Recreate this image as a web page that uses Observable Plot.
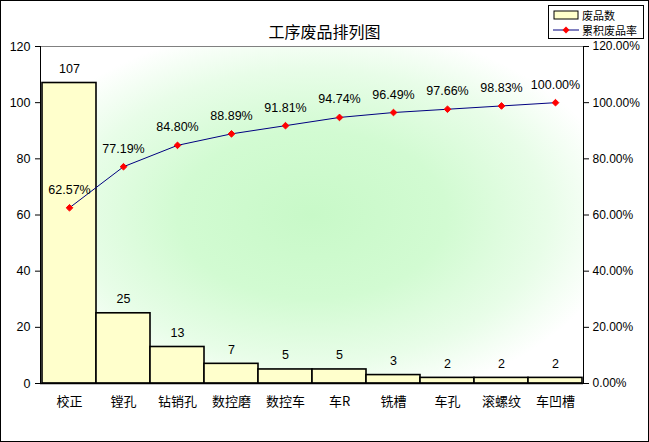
<!DOCTYPE html>
<html><head><meta charset="utf-8">
<script src="https://cdn.jsdelivr.net/npm/d3@7"></script>
<script src="https://cdn.jsdelivr.net/npm/@observablehq/plot@0.6"></script>
<style>
body{margin:0;background:#fff;}
#wrap{position:relative;width:649px;height:442px;overflow:hidden;font-family:"Liberation Sans","Noto Sans CJK SC",sans-serif;}
#border{position:absolute;left:0;top:0;width:649px;height:442px;box-sizing:border-box;border:1px solid #000;pointer-events:none;}
#title{position:absolute;left:0;width:649px;top:20px;text-align:center;font-size:16px;font-family:"Noto Sans CJK SC",sans-serif;line-height:22px;}
#legend{position:absolute;left:548px;top:5px;width:96px;height:34px;box-sizing:border-box;border:1px solid #000;background:#fff;font-size:11px;font-family:"Noto Sans CJK SC",sans-serif;}
.row{position:absolute;left:4px;height:14px;line-height:14px;}
svg{position:absolute;left:0;top:0;}
</style></head>
<body><div id="wrap"></div>
<script>
const categories = ["校正","镗孔","钻销孔","数控磨","数控车","车R","铣槽","车孔","滚螺纹","车凹槽"];
const counts = [107,25,13,7,5,5,3,2,2,2];
const cumulative = [62.57,77.19,84.80,88.89,91.81,94.74,96.49,97.66,98.83,100.00];
const leftTicks = [0,20,40,60,80,100,120];
const rightTicks = [0,20,40,60,80,100,120];
const titleText = "工序废品排列图";
const legendLabels = ["废品数","累积废品率"];

const data = categories.map((c,i)=>({cat:c,count:counts[i],cum:cumulative[i]}));

const plot = Plot.plot({
  width:649, height:442,
  marginLeft:40, marginRight:66, marginTop:46, marginBottom:59,
  style:{fontFamily:'"Liberation Sans","Noto Sans CJK SC",sans-serif',fontSize:"12px",background:"transparent",color:"#000"},
  x:{type:"band",domain:categories,padding:0,label:null},
  y:{domain:[0,120],label:null},
  marks:[
    Plot.frame({fill:"url(#bgGrad)",stroke:"none"}),
    Plot.ruleY([120],{stroke:"#808080",strokeWidth:1.2}),
    Plot.barY(data,{x:"cat",y:"count",fill:"#ffffcc",stroke:"#000",strokeWidth:1.6}),
    Plot.ruleY([0],{stroke:"#000",strokeWidth:1.6}),
    Plot.frame({anchor:"left",stroke:"#000"}),
    Plot.frame({anchor:"right",stroke:"#000"}),
    Plot.axisY({anchor:"left",ticks:leftTicks,tickSize:5,tickPadding:5,label:null,fontSize:12.5}),
    Plot.axisY({anchor:"right",ticks:rightTicks,tickSize:5,tickPadding:4,label:null,tickFormat:d=>d.toFixed(2)+"%",fontSize:12}),
    Plot.axisX({tickSize:0,tickPadding:13,label:null,fontSize:13,fontFamily:"Noto Sans CJK SC"}),
    Plot.text(data,{x:"cat",y:"count",text:d=>String(d.count),dy:-14,fontSize:12.5}),
    Plot.lineY(data,{x:"cat",y:"cum",stroke:"#000080",strokeWidth:1}),
    Plot.dot(data,{x:"cat",y:"cum",symbol:"diamond2",fill:"#ff0000",stroke:"#ff0000",strokeWidth:1,r:3}),
    Plot.text(data,{x:"cat",y:"cum",text:d=>d.cum.toFixed(2)+"%",dy:-18,fontSize:12.5})
  ]
});
const svg = d3.select(plot);
const defs = svg.insert("defs",":first-child");
const g = defs.append("radialGradient").attr("id","bgGrad").attr("cx","0.5").attr("cy","0.5").attr("r","0.62");
g.append("stop").attr("offset","0").attr("stop-color","#c8f9c8");
g.append("stop").attr("offset","0.4").attr("stop-color","#d2fbd2");
g.append("stop").attr("offset","0.7").attr("stop-color","#e8fde8");
g.append("stop").attr("offset","0.92").attr("stop-color","#ffffff");
g.append("stop").attr("offset","1").attr("stop-color","#ffffff");

const wrap = document.getElementById("wrap");
wrap.appendChild(plot);
const t = document.createElement("div"); t.id="title"; t.textContent=titleText; wrap.appendChild(t);
const lg = document.createElement("div"); lg.id="legend";
lg.innerHTML = `<div class="row" style="top:2px"><svg width="26" height="14" style="position:static;vertical-align:top"><rect x="1" y="3" width="24" height="8" fill="#ffffcc" stroke="#000"/></svg><span style="margin-left:3px">${legendLabels[0]}</span></div>
<div class="row" style="top:17px"><svg width="26" height="14" style="position:static;vertical-align:top"><line x1="0" y1="7" x2="26" y2="7" stroke="#000080"/><path d="M13,3.5L16.5,7L13,10.5L9.5,7Z" fill="#ff0000"/></svg><span style="margin-left:3px">${legendLabels[1]}</span></div>`;
wrap.appendChild(lg);
const b = document.createElement("div"); b.id="border"; wrap.appendChild(b);
</script></body></html>
